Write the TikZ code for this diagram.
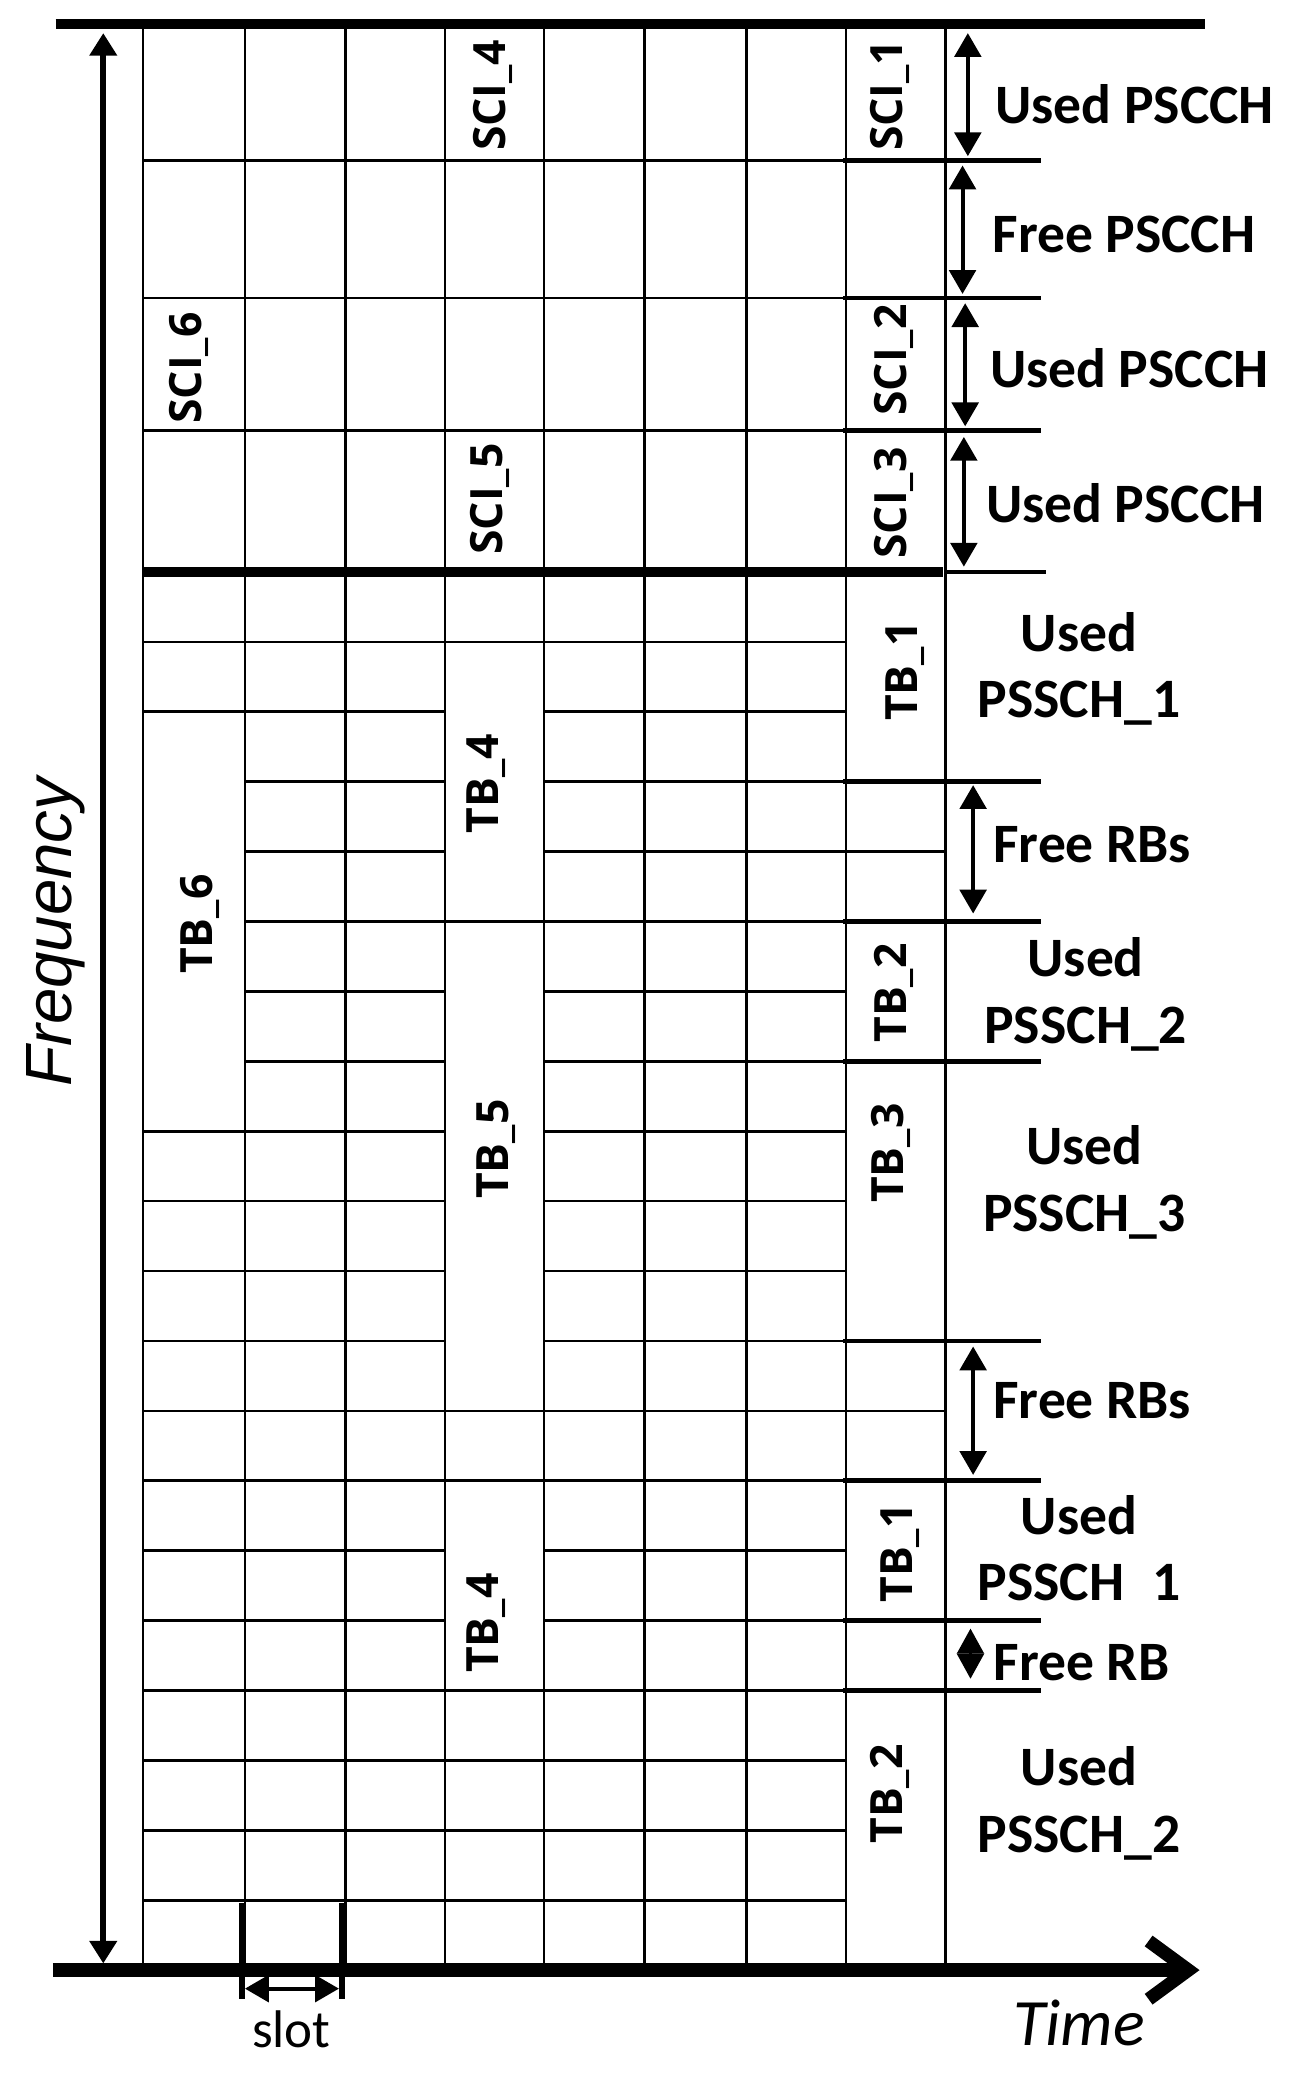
\documentclass[tikz,border=0pt]{standalone}
\usepackage{fontspec}
\setmainfont{Carlito}
\newfontfamily\cellfont{Open Sans}
\newfontfamily\axisfont{Liberation Sans}
\usetikzlibrary{arrows.meta}

\begin{document}
\begin{tikzpicture}[x=0.5pt,y=-0.5pt,
    grid/.style={line width=1pt},
    sideline/.style={line width=1.8pt},
    span/.style={line width=1.5pt,>={Triangle[length=9pt,width=10pt]},<->},
    cell/.style={rotate=90,inner sep=0pt,font=\cellfont\bfseries\fontsize{16.8}{20}\selectfont},
    side/.style={inner sep=0pt,align=center,font=\bfseries\fontsize{21}{25}\selectfont}]
        \fill[white] (0,0) rectangle (973,1568);

        \foreach \x in {108,185,261,336,411,487,564,639,714}
          \draw[grid] (\x,18) -- (\x,1488);
        \foreach \y in {121,225,325}
          \draw[grid] (108,\y) -- (639,\y);

        \foreach \i [evaluate=\i as \y using 432+52.8*\i] in {1,2,8,9,...,19}
          \draw[grid] (108,\y) -- (336,\y);
        \foreach \i [evaluate=\i as \y using 432+52.8*\i] in {3,...,7}
          \draw[grid] (185,\y) -- (336,\y);
        \foreach \i [evaluate=\i as \y using 432+52.8*\i] in {1,5,12,13,16,17,18,19}
          \draw[grid] (336,\y) -- (639,\y);
        \foreach \i [evaluate=\i as \y using 432+52.8*\i] in {2,3,4,6,7,8,9,10,11,14,15}
          \draw[grid] (411,\y) -- (639,\y);
        \foreach \i [evaluate=\i as \y using 432+52.8*\i] in {4,12}
          \draw[grid] (639,\y) -- (714,\y);

        \draw[line width=4pt] (42,18) -- (910,18);
        \draw[line width=3.5pt] (108,432) -- (712,432);
        \draw[sideline] (714,432) -- (790,432);
        \foreach \y in {121,225,325}
          \draw[sideline] (637,\y) -- (786,\y);
        \foreach \i [evaluate=\i as \y using 432+52.8*\i] in {3,5,7,11,13,15,16}
          \draw[sideline] (637,\y) -- (786,\y);

        \coordinate (f0) at (78,1483);
        \coordinate (f1) at (78,25);
        \draw[line width=2.2pt,>={Triangle[length=8.5pt,width=10pt]},<->] (f0) -- (f1);
        \coordinate (t0) at (40,1488);
        \coordinate (t1) at (906,1488);
        \draw[line width=5pt,-{Straight Barb[length=15pt,width=22pt]}] (t0) -- (t1);

        \draw[line width=2.2pt] (183,1437) -- (183,1510);
        \draw[line width=2.2pt] (258,1437) -- (258,1510);
        \coordinate (s0) at (185,1502);
        \coordinate (s1) at (256,1502);
        \draw[span] (s0) -- (s1);

        \coordinate (a1t) at (731,25);   \coordinate (a1b) at (731,118);
        \coordinate (a2t) at (727,125);  \coordinate (a2b) at (727,222);
        \coordinate (a3t) at (729,229);  \coordinate (a3b) at (729,322);
        \coordinate (a4t) at (728,330);  \coordinate (a4b) at (728,428);
        \coordinate (a5t) at (735,593);  \coordinate (a5b) at (735,690);
        \coordinate (a6t) at (735,1017); \coordinate (a6b) at (735,1114);
        \coordinate (a7t) at (733,1230); \coordinate (a7b) at (733,1268);
        \draw[span] (a1t) -- (a1b);
        \draw[span] (a2t) -- (a2b);
        \draw[span] (a3t) -- (a3b);
        \draw[span] (a4t) -- (a4b);
        \draw[span] (a5t) -- (a5b);
        \draw[span] (a6t) -- (a6b);
        \draw[span,>={Triangle[length=9.5pt,width=10pt]}] (a7t) -- (a7b);

        \node[cell] (sci4) at (372,72) {SCI\_4};
        \node[cell] (sci1) at (672,72) {SCI\_1};
        \node[cell] (sci6) at (143,278) {SCI\_6};
        \node[cell] (sci2) at (675,272) {SCI\_2};
        \node[cell] (sci5) at (370,377) {SCI\_5};
        \node[cell] (sci3) at (675,380) {SCI\_3};
        \node[cell] (tb1) at (684,507) {TB\_1};
        \node[cell] (tb4) at (367,592) {TB\_4};
        \node[cell] (tb6) at (151,698) {TB\_6};
        \node[cell] (tb2) at (675,750) {TB\_2};
        \node[cell] (tb5) at (375,868) {TB\_5};
        \node[cell] (tb3) at (673,871) {TB\_3};
        \node[cell] (tb1b) at (680,1173) {TB\_1};
        \node[cell] (tb4b) at (367,1226) {TB\_4};
        \node[cell] (tb2b) at (672,1355) {TB\_2};

        \node[side] (usedpscch1) at (857,79) {Used PSCCH};
        \node[side] (freepscch) at (849,177) {Free PSCCH};
        \node[side] (usedpscch2) at (853,278) {Used PSCCH};
        \node[side] (usedpscch3) at (850,380) {Used PSCCH};
        \node[side] (usedpssch1) at (815,505) {Used\\PSSCH\_1};
        \node[side] (freerbs1) at (825,638) {Free RBs};
        \node[side] (usedpssch2) at (820,751) {Used\\PSSCH\_2};
        \node[side] (usedpssch3) at (819,893) {Used\\PSSCH\_3};
        \node[side] (freerbs2) at (825,1058) {Free RBs};
        \node[side] (usedpssch1b) at (815,1172) {Used\\PSSCH\phantom{\_}1};
        \node[side] (freerb) at (817,1256) {Free RB};
        \node[side] (usedpssch2b) at (815,1362) {Used\\PSSCH\_2};

        \node[rotate=90,font=\axisfont\itshape\fontsize{24.7}{28}\selectfont] (freq) at (42,704) {Frequency};
        \node[font=\itshape\fontsize{25}{30}\selectfont] (time) at (815,1528) {Time};
        \node[font=\fontsize{20}{24}\selectfont] (slot) at (220,1533) {slot};
      \end{tikzpicture}
\end{document}
